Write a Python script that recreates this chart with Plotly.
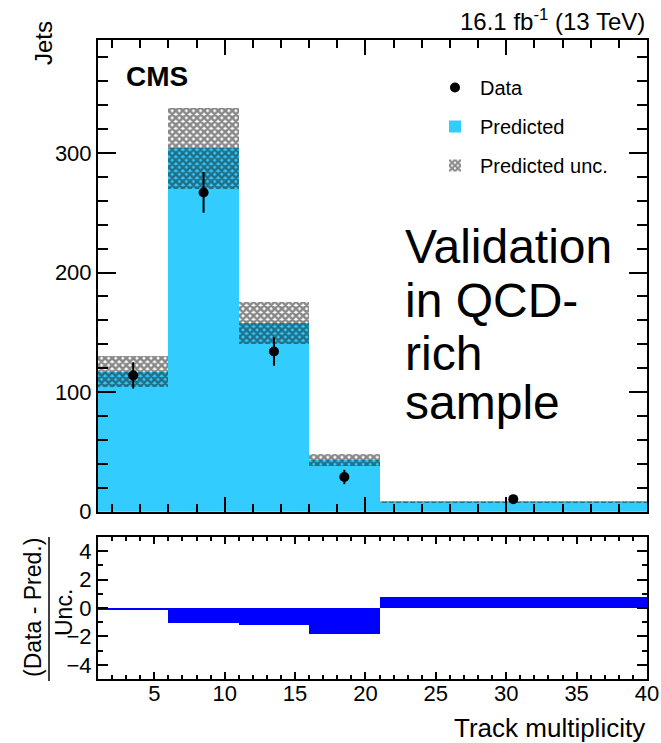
import plotly.graph_objects as go

# ---- data ----
bin_edges = [1, 6, 11, 16, 21, 40]
predicted = [117, 304, 158, 43, 8]
predicted_unc = [13, 34, 17.5, 5, 1]
data_counts = [114, 267, 134, 29, 10.5]
data_err = [11, 17, 12, 6, 3.2]
pull = [-0.17, -1.03, -1.17, -1.8, 0.76]

centers = [(a + b) / 2 for a, b in zip(bin_edges[:-1], bin_edges[1:])]
widths = [b - a for a, b in zip(bin_edges[:-1], bin_edges[1:])]
band_base = [p - u for p, u in zip(predicted, predicted_unc)]
band_height = [2 * u for u in predicted_unc]

FONT = "Liberation Sans, Arial, Helvetica, sans-serif"
W, H = 661, 743
ML, MR, MT, MB = 98, 14, 40, 64
PW, PH = W - ML - MR, H - MT - MB


def px_x(x):
    return (x - ML) / PW


def px_y(y):
    return (H - MB - y) / PH


fig = go.Figure()

fig.add_trace(go.Bar(
    x=centers, y=predicted, width=widths, name="Predicted",
    marker=dict(color="#33CCFF", line=dict(width=0)),
    xaxis="x", yaxis="y", legendgroup="b", legendrank=2,
))
fig.add_trace(go.Bar(
    x=centers, y=band_height, base=band_base, width=widths, name="Predicted unc.",
    marker=dict(color="rgba(0,0,0,0)", line=dict(width=0),
                pattern=dict(shape="x", fgcolor="#111111", bgcolor="rgba(0,0,0,0)",
                             size=5, solidity=0.75, fillmode="overlay")),
    xaxis="x", yaxis="y", legendgroup="c", legendrank=3,
))
fig.add_trace(go.Scatter(
    x=centers, y=data_counts, mode="markers", name="Data",
    marker=dict(color="black", size=10),
    error_y=dict(type="data", array=data_err, color="black", thickness=2, width=0),
    xaxis="x", yaxis="y", legendgroup="a", legendrank=1,
))
fig.add_trace(go.Bar(
    x=centers, y=pull, width=widths, showlegend=False,
    marker=dict(color="#0000FF", line=dict(width=0)),
    xaxis="x2", yaxis="y2",
))

axis_common = dict(showline=True, linecolor="black", linewidth=2, mirror="allticks",
                   ticks="inside", tickcolor="black", tickwidth=2, showgrid=False,
                   zeroline=False, automargin=False,
                   tickfont=dict(family=FONT, size=22, color="black"))

main_bottom = px_y(511.7)
ratio_top = px_y(537)

fig.update_layout(
    template="none",
    width=W, height=H,
    margin=dict(l=ML, r=MR, t=MT, b=MB, autoexpand=False),
    paper_bgcolor="white", plot_bgcolor="white",
    barmode="overlay", bargap=0,
    font=dict(family=FONT, color="black"),
    xaxis=dict(domain=[0, 1], anchor="y", range=[1, 40], dtick=10, tick0=0, ticklen=15,
               showticklabels=False,
               minor=dict(dtick=2, tick0=0, ticklen=8, tickwidth=1.5, ticks="inside",
                          tickcolor="black", showgrid=False),
               **axis_common),
    yaxis=dict(domain=[main_bottom, 1], anchor="x", range=[0, 394.5], dtick=100, tick0=0,
               ticklen=18,
               minor=dict(dtick=20, tick0=0, ticklen=10, tickwidth=1.5, ticks="inside",
                          tickcolor="black", showgrid=False),
               **axis_common),
    xaxis2=dict(domain=[0, 1], anchor="y2", range=[1, 40], dtick=5, tick0=0, ticklen=7,
                ticklabelstandoff=-6,
                minor=dict(dtick=1, tick0=0, ticklen=4, tickwidth=1.5, ticks="inside",
                           tickcolor="black", showgrid=False),
                **axis_common),
    yaxis2=dict(domain=[0, ratio_top], anchor="x2", range=[-5, 5], dtick=2, tick0=0,
                ticklen=10,
                minor=dict(dtick=1, tick0=0, ticklen=5, tickwidth=1.5, ticks="inside",
                           tickcolor="black", showgrid=False),
                **axis_common),
    legend=dict(x=px_x(430), y=px_y(68), xanchor="left", yanchor="top",
                bgcolor="rgba(0,0,0,0)", font=dict(family=FONT, size=20, color="black"),
                tracegroupgap=10, itemwidth=40, traceorder="grouped"),
)

annotations = [
    dict(text="16.1 fb<sup>-1</sup> (13 TeV)", x=1, y=px_y(20), xanchor="right",
         yanchor="middle", font=dict(size=24)),
    dict(text="<b>CMS</b>", x=px_x(124), y=px_y(77), xanchor="left", yanchor="middle",
         font=dict(size=28)),
    dict(text="Jets", x=px_x(44), y=px_y(43), textangle=-90, xanchor="center",
         yanchor="middle", font=dict(size=24)),
    dict(text="Track multiplicity", x=1, y=px_y(728), xanchor="right", yanchor="middle",
         font=dict(size=26)),
    dict(text="(Data - Pred.)", x=px_x(33), y=px_y(608), textangle=-90, xanchor="center",
         yanchor="middle", font=dict(size=23)),
    dict(text="Unc.", x=px_x(64), y=px_y(613), textangle=-90, xanchor="center",
         yanchor="middle", font=dict(size=23)),
]
for txt, yb in zip(["Validation", "in QCD-", "rich", "sample"], [246, 300, 353, 402]):
    annotations.append(dict(text=txt, x=px_x(403), y=px_y(yb), xanchor="left",
                            yanchor="middle", font=dict(size=48)))
for a in annotations:
    a.update(xref="paper", yref="paper", showarrow=False)
    a.setdefault("font", {})
    a["font"].setdefault("family", FONT)
    a["font"].setdefault("color", "black")
fig.update_layout(annotations=annotations)

fig.add_shape(type="line", xref="paper", yref="paper", x0=px_x(49), x1=px_x(49),
              y0=px_y(537), y1=px_y(681), line=dict(color="black", width=1.5))

fig.write_html("out.html")
